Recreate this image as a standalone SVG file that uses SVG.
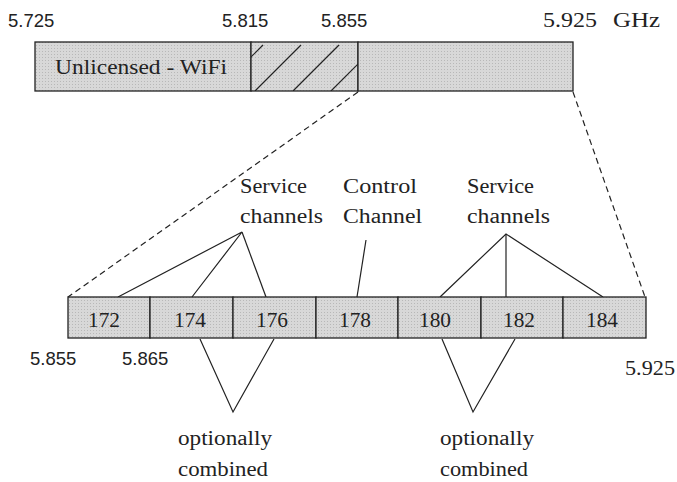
<svg xmlns="http://www.w3.org/2000/svg" width="677" height="482" viewBox="0 0 677 482">
<style>
.sans{font-family:"Liberation Sans","DejaVu Sans",sans-serif;font-size:18.5px;fill:#222}
.serif{font-family:"Liberation Serif","DejaVu Serif",serif;font-size:20.5px;fill:#222}
.cell{stroke:#222;stroke-width:1.3}
.num{font-family:"Liberation Serif","DejaVu Serif",serif;font-size:21px;fill:#222}
.ln{stroke:#222;stroke-width:1.2;fill:none}
.dash{stroke:#222;stroke-width:1.2;fill:none;stroke-dasharray:6 4}
</style>
<defs>
<pattern id="dots" width="3" height="3" patternUnits="userSpaceOnUse">
<rect width="3" height="3" fill="#d8d8d8"/>
<rect width="1" height="1" fill="#b8b8b8"/>
</pattern>
<clipPath id="hc"><rect x="251" y="42" width="107" height="49"/></clipPath>
</defs>
<rect width="677" height="482" fill="#fff"/>

<g id="top-labels">
<text class="sans" x="8" y="27">5.725</text>
<text class="sans" x="222" y="27">5.815</text>
<text class="sans" x="321" y="27">5.855</text>
<text class="serif" x="543" y="27" textLength="54" lengthAdjust="spacingAndGlyphs">5.925</text>
<text class="serif" x="613" y="27" textLength="47" lengthAdjust="spacingAndGlyphs">GHz</text>
</g>

<g id="top-bar">
<rect x="35" y="42" width="216" height="49" fill="url(#dots)" stroke="#222" stroke-width="1.3"/>
<rect x="251" y="42" width="107" height="49" fill="url(#dots)" stroke="#222" stroke-width="1.3"/>
<rect x="358" y="42" width="215" height="49" fill="url(#dots)" stroke="#222" stroke-width="1.3"/>
<g clip-path="url(#hc)" class="ln">
<line x1="217" y1="91" x2="263" y2="45"/>
<line x1="255" y1="91" x2="301" y2="45"/>
<line x1="293" y1="91" x2="339" y2="45"/>
<line x1="331" y1="91" x2="377" y2="45"/>
</g>
<text class="serif" x="55" y="74" textLength="172" lengthAdjust="spacingAndGlyphs">Unlicensed - WiFi</text>
</g>

<g id="connectors">
<line class="dash" x1="358" y1="92" x2="68" y2="297"/>
<line class="dash" x1="573" y1="92" x2="645" y2="297"/>
<polyline class="ln" points="118,297 242,232 192,297"/>
<line class="ln" x1="242" y1="232" x2="266" y2="297"/>
<line class="ln" x1="366" y1="240" x2="357" y2="297"/>
<polyline class="ln" points="440,297 506,234 603,297"/>
<line class="ln" x1="506" y1="234" x2="506" y2="297"/>
<polyline class="ln" points="200,339 233,412 274,339"/>
<polyline class="ln" points="442,339 473,412 515,339"/>
</g>

<g id="channel-bar">
<g id="ch172"><rect class="cell" x="68" y="297" width="82" height="41" fill="url(#dots)"/><text class="num" x="88" y="327" textLength="32" lengthAdjust="spacingAndGlyphs">172</text></g>
<g id="ch174"><rect class="cell" x="150" y="297" width="83" height="41" fill="url(#dots)"/><text class="num" x="174" y="327" textLength="32" lengthAdjust="spacingAndGlyphs">174</text></g>
<g id="ch176"><rect class="cell" x="233" y="297" width="83" height="41" fill="url(#dots)"/><text class="num" x="256" y="327" textLength="32" lengthAdjust="spacingAndGlyphs">176</text></g>
<g id="ch178"><rect class="cell" x="316" y="297" width="82" height="41" fill="url(#dots)"/><text class="num" x="339" y="327" textLength="32" lengthAdjust="spacingAndGlyphs">178</text></g>
<g id="ch180"><rect class="cell" x="398" y="297" width="83" height="41" fill="url(#dots)"/><text class="num" x="419" y="327" textLength="32" lengthAdjust="spacingAndGlyphs">180</text></g>
<g id="ch182"><rect class="cell" x="481" y="297" width="82" height="41" fill="url(#dots)"/><text class="num" x="503" y="327" textLength="32" lengthAdjust="spacingAndGlyphs">182</text></g>
<g id="ch184"><rect class="cell" x="563" y="297" width="83" height="41" fill="url(#dots)"/><text class="num" x="586" y="327" textLength="32" lengthAdjust="spacingAndGlyphs">184</text></g>
</g>

<g id="service-left"><text class="serif" x="240" y="193" textLength="67" lengthAdjust="spacingAndGlyphs">Service</text><text class="serif" x="240" y="223" textLength="83" lengthAdjust="spacingAndGlyphs">channels</text></g>
<g id="control"><text class="serif" x="343" y="193" textLength="74" lengthAdjust="spacingAndGlyphs">Control</text><text class="serif" x="343" y="223" textLength="79" lengthAdjust="spacingAndGlyphs">Channel</text></g>
<g id="service-right"><text class="serif" x="467" y="193" textLength="67" lengthAdjust="spacingAndGlyphs">Service</text><text class="serif" x="467" y="223" textLength="83" lengthAdjust="spacingAndGlyphs">channels</text></g>

<g id="bottom-labels">
<text class="sans" x="30" y="365">5.855</text>
<text class="sans" x="122" y="365">5.865</text>
<text class="serif" x="625" y="375" textLength="50" lengthAdjust="spacingAndGlyphs">5.925</text>
</g>

<g id="combined-left"><text class="serif" x="178" y="445" textLength="94" lengthAdjust="spacingAndGlyphs">optionally</text><text class="serif" x="178" y="476" textLength="90" lengthAdjust="spacingAndGlyphs">combined</text></g>
<g id="combined-right"><text class="serif" x="440" y="445" textLength="94" lengthAdjust="spacingAndGlyphs">optionally</text><text class="serif" x="440" y="476" textLength="88" lengthAdjust="spacingAndGlyphs">combined</text></g>
</svg>
